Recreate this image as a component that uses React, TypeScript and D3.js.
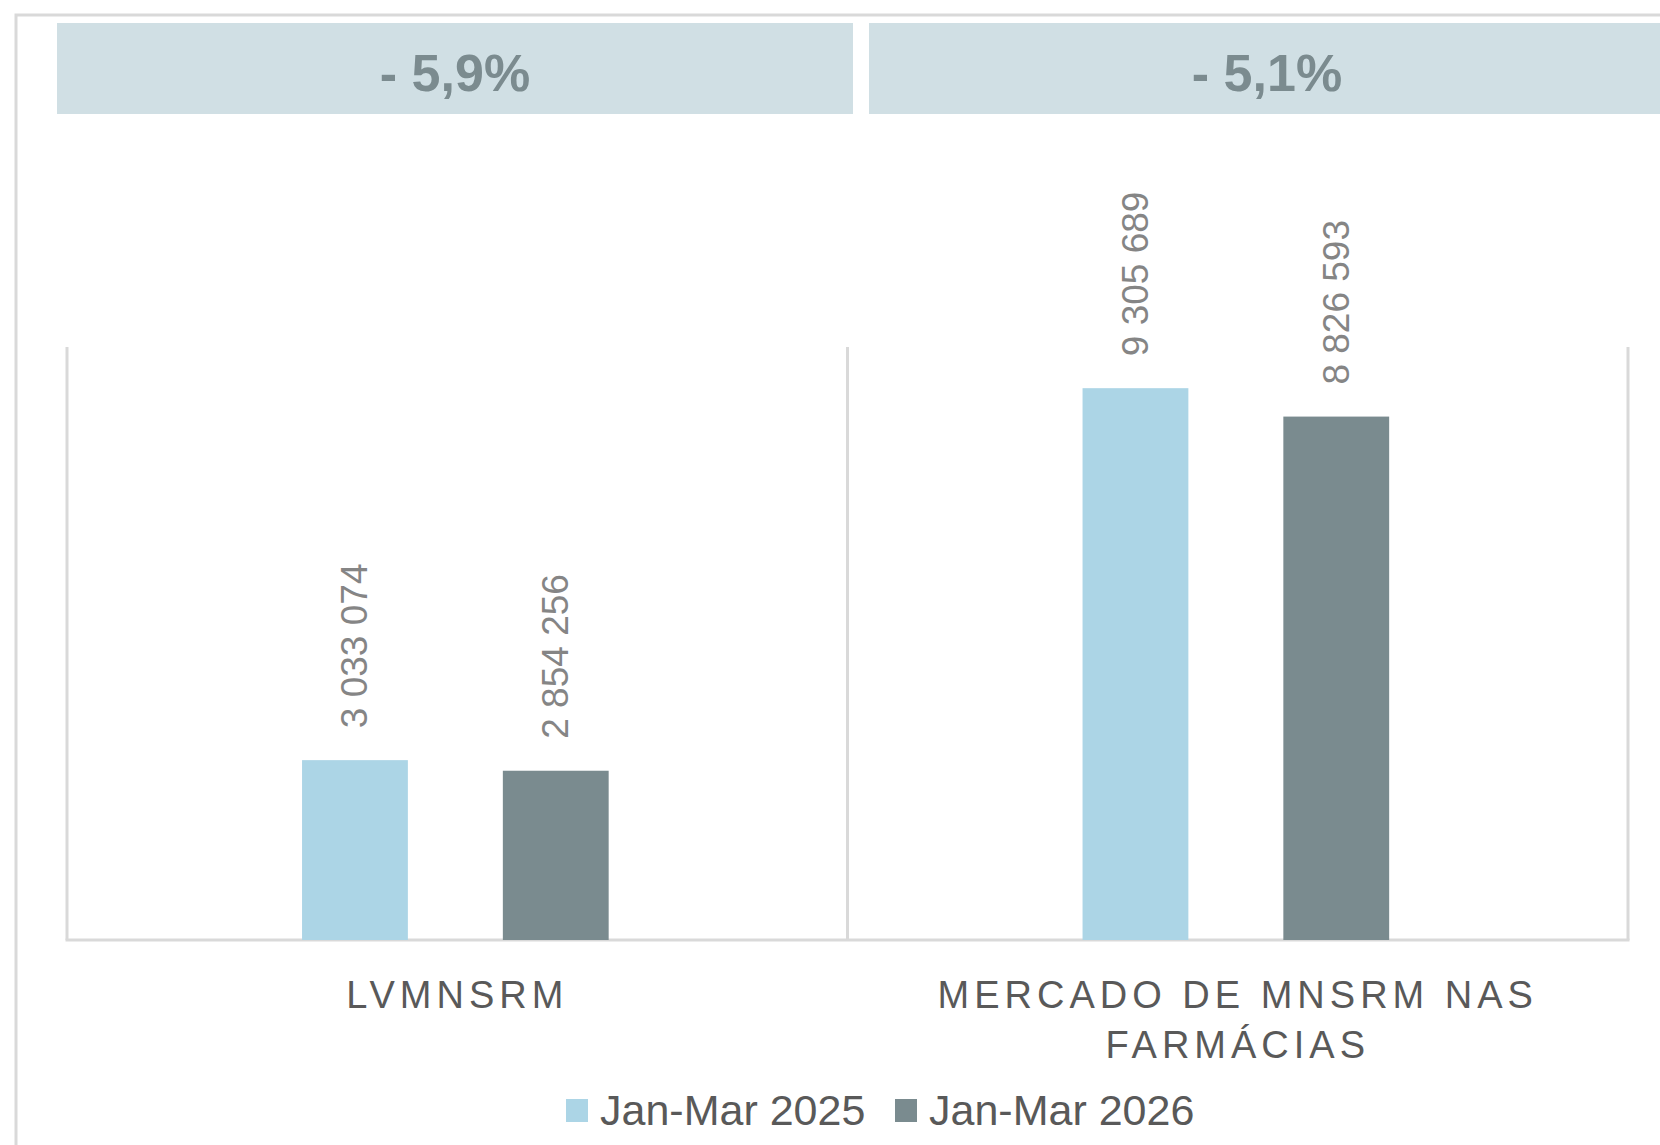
import React from 'react';
import * as d3 from 'd3';

const categories = ['LVMNSRM', 'MERCADO DE MNSRM NAS FARMÁCIAS'];
const categoryLines = [['LVMNSRM'], ['MERCADO DE MNSRM NAS', 'FARMÁCIAS']];
const seriesNames = ['Jan-Mar 2025', 'Jan-Mar 2026'];
const values2025 = [3033074, 9305689];
const values2026 = [2854256, 8826593];
const changeLabels = ['- 5,9%', '- 5,1%'];
const seriesColors = ['#acd5e6', '#7a8b8f'];

const W = 1660;
const H = 1145;
const FONT = '"Liberation Sans", Arial, sans-serif';

// space as thousands separator, like the source
const fmt = d3.formatLocale({ decimal: ',', thousands: ' ', grouping: [3], currency: ['', ''] }).format(',d');

const App = () => {
  const seriesValues = [values2025, values2026];

  // one band per category, bars grouped inside it
  const x0 = d3.scaleBand().domain(categories).range([67, 1628]).paddingInner(0).paddingOuter(0);
  const x1 = d3
    .scaleBand()
    .domain(seriesNames)
    .range([0, x0.bandwidth()])
    .paddingInner(0.473)
    .paddingOuter(1.18)
    .align(0.496);
  const y = d3.scaleLinear().domain([0, 10000000]).range([940, 347]);

  // header boxes with the % change above each category
  const hx = d3.scaleBand().domain(categories).range([57, 1665]).paddingInner(16 / 812);

  const plotTop = y(10000000);
  const baseY = y(0);

  return (
    <svg width={W} height={H} style={{ position: 'absolute', left: 0, top: 0, display: 'block', background: '#fff' }}>
      <rect x={16} y={15} width={W + 40} height={H + 40} fill="#fff" stroke="#d9d9d9" strokeWidth={3} />

      {categories.map((c, i) => (
        <g key={'h' + c}>
          <rect x={hx(c)} y={23} width={hx.bandwidth()} height={91} fill="#d0dfe4" />
          <text
            x={(hx(c) as number) + hx.bandwidth() / 2}
            y={73}
            textAnchor="middle"
            dominantBaseline="central"
            fontFamily={FONT}
            fontWeight={700}
            fontSize={52}
            fill="#7b8b8f"
          >
            {changeLabels[i]}
          </text>
        </g>
      ))}

      {/* category dividers and baseline */}
      {[...categories.map((c) => x0(c) as number), x0.range()[1]].map((xv, i) => (
        <line key={'v' + i} x1={xv} x2={xv} y1={plotTop} y2={baseY} stroke="#d9d9d9" strokeWidth={3} />
      ))}
      <line x1={x0.range()[0] - 1.5} x2={x0.range()[1] + 1.5} y1={baseY} y2={baseY} stroke="#d9d9d9" strokeWidth={3} />

      {categories.map((c, ci) => (
        <g key={'g' + c} transform={`translate(${x0(c)},0)`}>
          {seriesNames.map((s, si) => {
            const v = seriesValues[si][ci];
            const bx = x1(s) as number;
            const cx = bx + x1.bandwidth() / 2;
            return (
              <g key={s}>
                <rect x={bx} y={y(v)} width={x1.bandwidth()} height={baseY - y(v)} fill={seriesColors[si]} />
                <text
                  transform={`translate(${cx},${y(v) - 32}) rotate(-90)`}
                  textAnchor="start"
                  dominantBaseline="central"
                  fontFamily={FONT}
                  fontSize={37}
                  fill="#858585"
                >
                  {fmt(v)}
                </text>
              </g>
            );
          })}
          {categoryLines[ci].map((line, li) => (
            <text
              key={line}
              x={x0.bandwidth() / 2}
              y={995 + li * 50}
              textAnchor="middle"
              dominantBaseline="central"
              fontFamily={FONT}
              fontSize={38}
              letterSpacing={5}
              fill="#595959"
            >
              {line}
            </text>
          ))}
        </g>
      ))}

      {seriesNames.map((s, i) => (
        <g key={'l' + s} transform={`translate(${566 + i * 329},1110)`}>
          <rect x={0} y={-11} width={22} height={23} fill={seriesColors[i]} />
          <text x={34} y={0} dominantBaseline="central" fontFamily={FONT} fontSize={43} fill="#595959">
            {s}
          </text>
        </g>
      ))}
    </svg>
  );
};

export default App;
